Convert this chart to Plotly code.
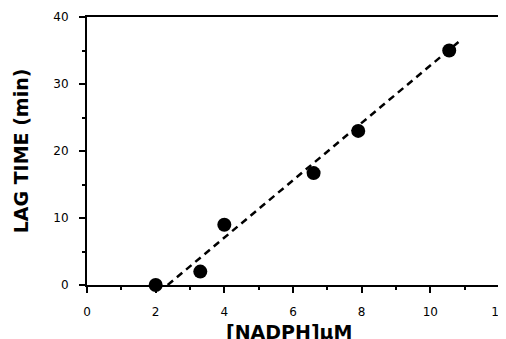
import plotly.graph_objects as go

nadph = [2.0, 3.3, 4.0, 6.6, 7.9, 10.55]
lag_time = [0.0, 2.0, 9.0, 16.7, 23.0, 35.0]
fit_x = [2.35, 10.85]
fit_y = [0.0, 36.4]
x_ticks = [0, 2, 4, 6, 8, 10, 12]
y_ticks = [0, 10, 20, 30, 40]
x_title = "[NADPH]μM"
y_title = "LAG TIME (min)"

fig = go.Figure()
fig.add_trace(go.Scatter(x=fit_x, y=fit_y, mode="lines",
                         line=dict(color="black", width=2.5, dash="7px,5px")))
fig.add_trace(go.Scatter(x=nadph, y=lag_time, mode="markers",
                         marker=dict(color="black", size=14), cliponaxis=False))

font_ticks = dict(family="DejaVu Sans, sans-serif", size=12, color="black")
title_font = dict(family="DejaVu Sans, sans-serif", size=19, color="black")
# page body has an 8px default margin, so the figure is offset by 8px
fig.update_layout(
    width=498, height=331,
    margin=dict(l=79, r=7, t=9, b=54),
    paper_bgcolor="white", plot_bgcolor="white",
    showlegend=False,
    xaxis=dict(range=[0, 12], tickvals=x_ticks, ticktext=[str(v) for v in x_ticks],
               automargin=False, ticklabeloverflow="allow",
               showgrid=False, zeroline=False, showline=True, linecolor="black",
               linewidth=2, mirror=True, ticks="outside", ticklen=6, tickwidth=2,
               tickcolor="black", tickfont=font_ticks, ticklabelstandoff=9,
               minor=dict(dtick=1, ticks="outside", ticklen=3, tickwidth=1.5, tickcolor="black")),
    yaxis=dict(range=[0, 40], tickvals=y_ticks, ticktext=[str(v) for v in y_ticks],
               automargin=False, ticklabeloverflow="allow",
               showgrid=False, zeroline=False, showline=True, linecolor="black",
               linewidth=2, mirror=True, ticks="outside", ticklen=6, tickwidth=2,
               tickcolor="black", tickfont=font_ticks, ticklabelstandoff=8,
               minor=dict(dtick=5, ticks="outside", ticklen=3, tickwidth=1.5, tickcolor="black"),
               title=dict(text=f"<b>{y_title}</b>", standoff=20, font=title_font)),
    annotations=[dict(text=f"<b>{x_title}</b>", xref="paper", yref="paper",
                      x=0.49, y=-0.125, xanchor="center", yanchor="top",
                      showarrow=False, font=title_font)],
)
fig.write_html("out.html")
